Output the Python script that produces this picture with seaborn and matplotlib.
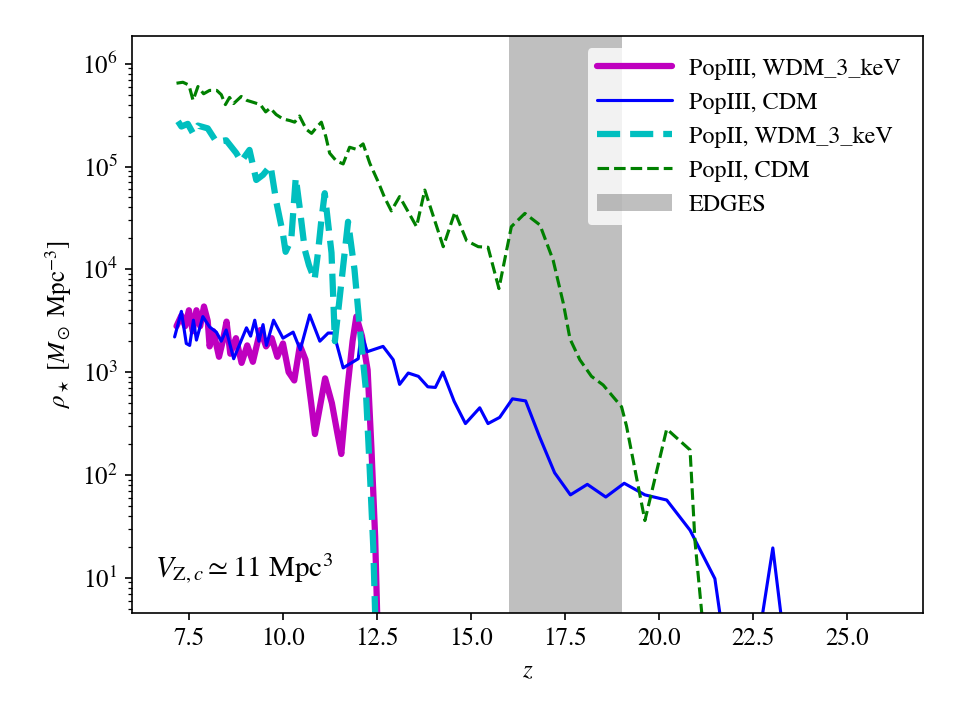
import numpy
from matplotlib import pyplot as plt
import seaborn
import pandas

# redshift / stellar mass density
z_pop3_wdm = [7.17, 7.30, 7.40, 7.50, 7.60, 7.70, 7.80, 7.90, 8.00, 8.05, 8.15, 8.30, 8.40,
              8.50, 8.60, 8.75, 8.90, 9.05, 9.20, 9.40, 9.55, 9.70, 9.85, 10.00, 10.15, 10.30,
              10.45, 10.60, 10.75, 10.85, 11.00, 11.12, 11.30, 11.45, 11.55, 11.70, 11.85,
              11.95, 12.10, 12.25, 12.35, 12.45, 12.55]
rho_pop3_wdm = [2800, 3550, 2800, 4000, 2500, 4000, 2800, 4350, 3150, 1780, 2500, 1410, 2000,
                3100, 1510, 2140, 1230, 1820, 1260, 2570, 1780, 2140, 1410, 1900, 1000, 830,
                1820, 1320, 500, 250, 500, 870, 500, 250, 160, 630, 2000,
                3470, 2240, 1050, 186, 25, 1]

z_pop3_cdm = [7.12, 7.30, 7.43, 7.52, 7.62, 7.70, 7.87, 8.05, 8.23, 8.36, 8.49, 8.69, 9.03,
              9.14, 9.25, 9.36, 9.47, 9.56, 9.75, 10.00, 10.27, 10.46, 10.71, 10.98, 11.20,
              11.35, 11.60, 12.00, 12.08, 12.24, 12.66, 12.93, 13.10, 13.33, 13.60, 13.85,
              14.05, 14.25, 14.55, 14.85, 15.23, 15.45, 15.76, 16.10, 16.45, 16.82, 17.22,
              17.64, 18.09, 18.58, 19.07, 19.62, 20.20, 20.82, 21.48, 21.75, 22.60, 23.02, 23.35]
rho_pop3_cdm = [2200, 3900, 1900, 1820, 3200, 2050, 3470, 2750, 2450, 2000, 2570, 1350, 2700,
                2240, 3200, 2000, 2900, 1820, 3200, 2140, 2450, 1650, 3600, 2000, 2400,
                2400, 1100, 1350, 2400, 1580, 1780, 1320, 760, 980, 910, 720,
                710, 1000, 520, 316, 450, 316, 363, 550, 525, 235, 105,
                64, 81, 61, 83, 64, 57, 29, 9.8, 2, 2, 19.5, 2]

z_pop2_wdm = [7.21, 7.30, 7.47, 7.61, 7.74, 8.00, 8.23, 8.49, 8.76, 8.89, 9.11, 9.29, 9.47,
              9.67, 9.82, 10.00, 10.07, 10.22, 10.34, 10.44, 10.58, 10.69, 10.84, 10.93,
              11.02, 11.11, 11.20, 11.29, 11.38, 11.73, 11.90, 12.05, 12.20, 12.30, 12.40, 12.50]
rho_pop2_wdm = [2.75e5, 2.45e5, 2.6e5, 2.1e5, 2.5e5, 2.35e5, 1.74e5, 1.8e5, 1.35e5, 1.12e5,
                1.45e5, 7.4e4, 8.3e4, 1.02e5, 4.6e4, 2.2e4, 1.48e4, 1.95e4, 7.8e4, 4.1e4,
                1.55e4, 1.1e4, 7.9e3, 1.45e4, 3.0e4, 5.5e4, 2.8e4, 1.45e4, 2.0e3, 2.9e4,
                1.0e4, 2.5e3, 700, 126, 20, 1]

z_pop2_cdm = [7.17, 7.34, 7.50, 7.61, 7.74, 7.89, 8.05, 8.24, 8.36, 8.47, 8.58, 8.69, 8.89,
              9.04, 9.22, 9.40, 9.54, 9.66, 9.82, 10.00, 10.18, 10.31, 10.44, 10.62, 10.76,
              10.89, 11.02, 11.14, 11.24, 11.42, 11.60, 11.77, 11.95, 12.13, 12.31, 12.53,
              12.70, 12.88, 13.10, 13.55, 13.77, 14.26, 14.57, 14.88, 15.19, 15.45, 15.74,
              16.07, 16.43, 16.83, 17.18, 17.45, 17.63, 17.89, 18.20, 18.51, 19.00, 19.13,
              19.62, 20.20, 20.82, 20.95, 21.30]
rho_pop2_cdm = [6.46e5, 6.6e5, 6.2e5, 4.4e5, 6.0e5, 5.1e5, 5.5e5, 5.5e5, 5.0e5, 4.0e5, 4.7e5,
                4.1e5, 4.8e5, 4.4e5, 4.2e5, 4.0e5, 3.4e5, 3.7e5, 3.2e5, 2.9e5, 2.8e5, 2.7e5,
                3.1e5, 2.3e5, 2.1e5, 2.4e5, 2.7e5, 1.95e5, 1.35e5, 1.13e5, 1.06e5, 1.54e5,
                1.47e5, 1.66e5, 1.07e5, 7.1e4, 5.0e4, 3.7e4, 5.1e4, 2.6e4, 5.9e4, 1.66e4,
                3.6e4, 1.9e4, 1.66e4, 1.64e4, 6.5e3, 2.6e4, 3.5e4, 2.7e4, 1.23e4, 4.7e3,
                2.1e3, 1.32e3, 910, 750, 460, 300, 36, 280, 175, 23, 1]

edges_z = [16.0, 19.0]

series = [
    ("PopIII, WDM_3_keV", z_pop3_wdm, rho_pop3_wdm, "m", "-", 3),
    ("PopIII, CDM", z_pop3_cdm, rho_pop3_cdm, "b", "-", 1.5),
    ("PopII, WDM_3_keV", z_pop2_wdm, rho_pop2_wdm, "c", "--", 3),
    ("PopII, CDM", z_pop2_cdm, rho_pop2_cdm, "g", "--", 1.5),
]

seaborn.set_style("ticks")
plt.rcParams["font.family"] = ["STIXGeneral", "Liberation Serif", "DejaVu Serif"]
plt.rcParams["mathtext.fontset"] = "stix"
plt.rcParams["font.size"] = 12
plt.rcParams["axes.edgecolor"] = "black"
plt.rcParams["xtick.color"] = "black"
plt.rcParams["ytick.color"] = "black"
plt.rcParams["text.color"] = "black"
plt.rcParams["axes.labelcolor"] = "black"

fig, ax = plt.subplots(figsize=(6.4, 4.8))
fig.subplots_adjust(left=0.138, right=0.961, bottom=0.149, top=0.95)
ax.set_yscale("log")

for label, z, rho, color, ls, lw in series:
    df = pandas.DataFrame({"z": z, "rho": rho})
    seaborn.lineplot(
        data=df, x="z", y="rho", ax=ax, color=color, linestyle=ls,
        linewidth=lw, label=label, estimator=None, sort=False,
    )

ax.axvspan(edges_z[0], edges_z[1], color="gray", alpha=0.5, lw=0,
           label="EDGES", zorder=0)

ax.set_xlim(6.0, 27.0)
ax.set_ylim(4.57, 1.86e6)
ax.set_xlabel(r"$z$")
ax.set_ylabel(r"$\rho_\star\ [M_\odot\ \mathrm{Mpc}^{-3}]$")

ax.text(0.028, 0.061, r"$V_{\mathrm{Z},c} \simeq 11\ \mathrm{Mpc}^3$",
        transform=ax.transAxes, fontsize=14, va="baseline")

leg = ax.legend(loc="upper right", handlelength=3.1, handletextpad=0.7, fontsize=11.6)
leg.get_frame().set_edgecolor("none")

fig.savefig("out.png", dpi=150)
